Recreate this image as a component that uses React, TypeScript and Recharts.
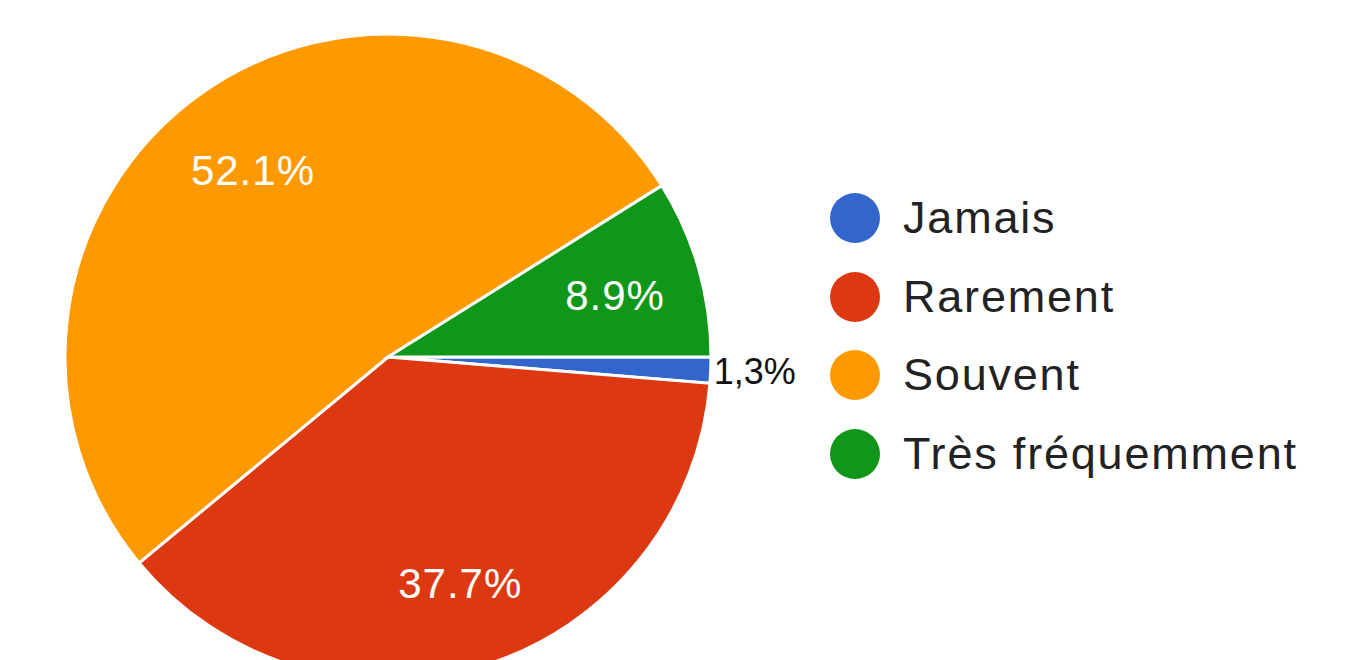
import { Cell, Legend, Pie, PieChart } from "recharts";

const categories = ["Jamais", "Rarement", "Souvent", "Très fréquemment"];
const shares = [1.3, 37.7, 52.1, 8.9];
const sliceLabels = ["1,3%", "37.7%", "52.1%", "8.9%"];
const colors = ["#3366cc", "#dc3912", "#ff9900", "#109618"];

const data = categories.map((name, i) => ({ name, value: shares[i] }));

const RAD = Math.PI / 180;
const FONT = "'Liberation Sans', Arial, sans-serif";

function renderLabel(props: any) {
  const { cx, cy, midAngle, outerRadius, index } = props;
  const cos = Math.cos(-midAngle * RAD);
  const sin = Math.sin(-midAngle * RAD);
  if (index === 0) {
    // tiny slice, label sits outside
    return (
      <text
        x={cx + (outerRadius + 3) * cos}
        y={cy + outerRadius * sin + 1}
        fill="#111"
        fontSize={36}
        fontFamily={FONT}
        textAnchor="start"
        dominantBaseline="central"
      >
        {sliceLabels[index]}
      </text>
    );
  }
  const r = outerRadius * 0.725;
  return (
    <text
      x={cx + r * cos + 2}
      y={cy + r * sin + 3}
      fill="#fff"
      fontSize={42}
      letterSpacing={1}
      fontFamily={FONT}
      textAnchor="middle"
      dominantBaseline="central"
    >
      {sliceLabels[index]}
    </text>
  );
}

function LegendBox() {
  return (
    <div style={{ fontFamily: FONT }}>
      {categories.map((c, i) => (
        <div
          key={c}
          style={{ display: "flex", alignItems: "center", height: 78.5 }}
        >
          <span
            style={{
              width: 50,
              height: 50,
              borderRadius: "50%",
              background: colors[i],
              display: "inline-block",
              marginRight: 23,
            }}
          />
          <span style={{ fontSize: 45, letterSpacing: 1.8, color: "#222" }}>
            {c}
          </span>
        </div>
      ))}
    </div>
  );
}

export default function App() {
  return (
    <div style={{ position: "absolute", left: 0, top: 0, background: "#fff" }}>
      <PieChart
        width={1352}
        height={660}
        margin={{ top: 0, right: 0, bottom: 0, left: 0 }}
      >
        <Pie
          data={data}
          dataKey="value"
          nameKey="name"
          cx={388}
          cy={357}
          outerRadius={323}
          startAngle={0}
          endAngle={-360}
          stroke="#fff"
          strokeWidth={3}
          label={renderLabel}
          labelLine={false}
          isAnimationActive={false}
        >
          {data.map((d, i) => (
            <Cell key={d.name} fill={colors[i]} />
          ))}
        </Pie>
        <Legend
          layout="vertical"
          content={() => <LegendBox />}
          wrapperStyle={{ left: 830, top: 179, width: 520 }}
        />
      </PieChart>
    </div>
  );
}
